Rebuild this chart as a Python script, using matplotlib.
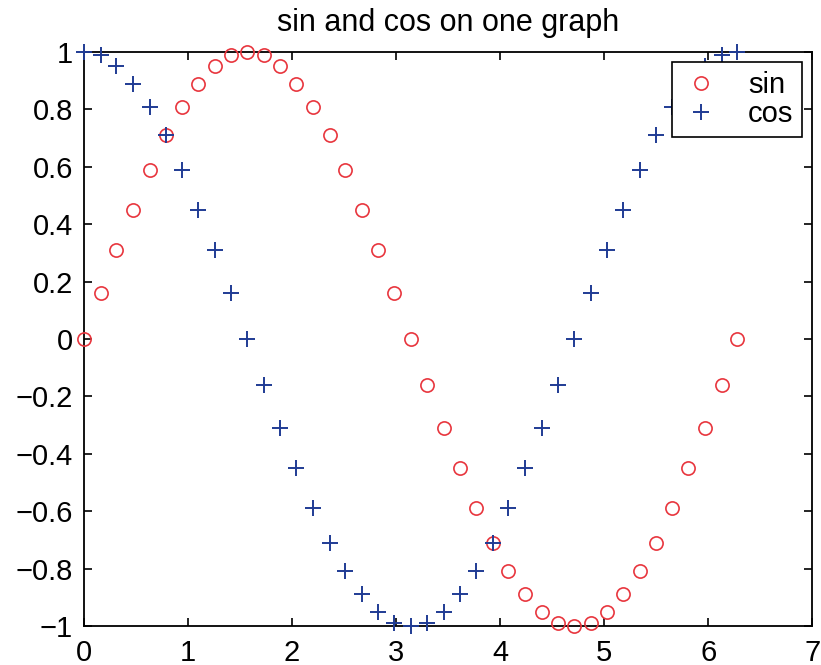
import matplotlib
matplotlib.use('Agg')
import matplotlib.pyplot as plt

plt.rcParams['font.family'] = ['Liberation Sans', 'DejaVu Sans']

# sample points 0..2pi
x_vals = [0.00, 0.16, 0.31, 0.47, 0.63, 0.79, 0.94, 1.10, 1.26, 1.41, 1.57,
          1.73, 1.88, 2.04, 2.20, 2.36, 2.51, 2.67, 2.83, 2.98, 3.14,
          3.30, 3.46, 3.61, 3.77, 3.93, 4.08, 4.24, 4.40, 4.56, 4.71,
          4.87, 5.03, 5.18, 5.34, 5.50, 5.65, 5.81, 5.97, 6.13, 6.28]
sin_vals = [0.00, 0.16, 0.31, 0.45, 0.59, 0.71, 0.81, 0.89, 0.95, 0.99, 1.00,
            0.99, 0.95, 0.89, 0.81, 0.71, 0.59, 0.45, 0.31, 0.16, 0.00,
            -0.16, -0.31, -0.45, -0.59, -0.71, -0.81, -0.89, -0.95, -0.99, -1.00,
            -0.99, -0.95, -0.89, -0.81, -0.71, -0.59, -0.45, -0.31, -0.16, 0.00]
cos_vals = [1.00, 0.99, 0.95, 0.89, 0.81, 0.71, 0.59, 0.45, 0.31, 0.16, 0.00,
            -0.16, -0.31, -0.45, -0.59, -0.71, -0.81, -0.89, -0.95, -0.99, -1.00,
            -0.99, -0.95, -0.89, -0.81, -0.71, -0.59, -0.45, -0.31, -0.16, 0.00,
            0.16, 0.31, 0.45, 0.59, 0.71, 0.81, 0.89, 0.95, 0.99, 1.00]

x_ticks = [0, 1, 2, 3, 4, 5, 6, 7]
y_ticks = [-1, -0.8, -0.6, -0.4, -0.2, 0, 0.2, 0.4, 0.6, 0.8, 1]
y_tick_labels = ['\u22121', '\u22120.8', '\u22120.6', '\u22120.4', '\u22120.2', '0',
                 '0.2', '0.4', '0.6', '0.8', '1']

fig = plt.figure(figsize=(8.21, 6.65), dpi=100)
ax = fig.add_axes([0.1023, 0.0586, 0.8870, 0.8632])

ax.plot(x_vals, sin_vals, 'o', mfc='none', mec='#e8363e', ms=9.5, mew=1.2,
        label='sin', clip_on=False, zorder=3)
ax.plot(x_vals, cos_vals, '+', color='#1f3b94', ms=11, mew=1.4,
        label='cos', clip_on=False, zorder=3)

ax.set_xlim(0, 7)
ax.set_ylim(-1, 1)
ax.set_xticks(x_ticks)
ax.set_yticks(y_ticks)
ax.set_yticklabels(y_tick_labels)
ax.tick_params(direction='in', top=True, right=True, length=6, width=1.2,
               labelsize=21)
ax.tick_params(axis='x', pad=9)
ax.tick_params(axis='y', pad=8)
for sp in ax.spines.values():
    sp.set_linewidth(1.3)

ax.set_title('sin and cos on one graph', fontsize=22, pad=15)

leg = ax.legend(loc='upper right', fontsize=21, fancybox=False, framealpha=1,
                edgecolor='black', borderaxespad=0.35, handletextpad=0.9,
                labelspacing=0.05, borderpad=0.3, handlelength=1.4)
leg.get_frame().set_linewidth(1.2)

fig.savefig('out.png', dpi=100)
